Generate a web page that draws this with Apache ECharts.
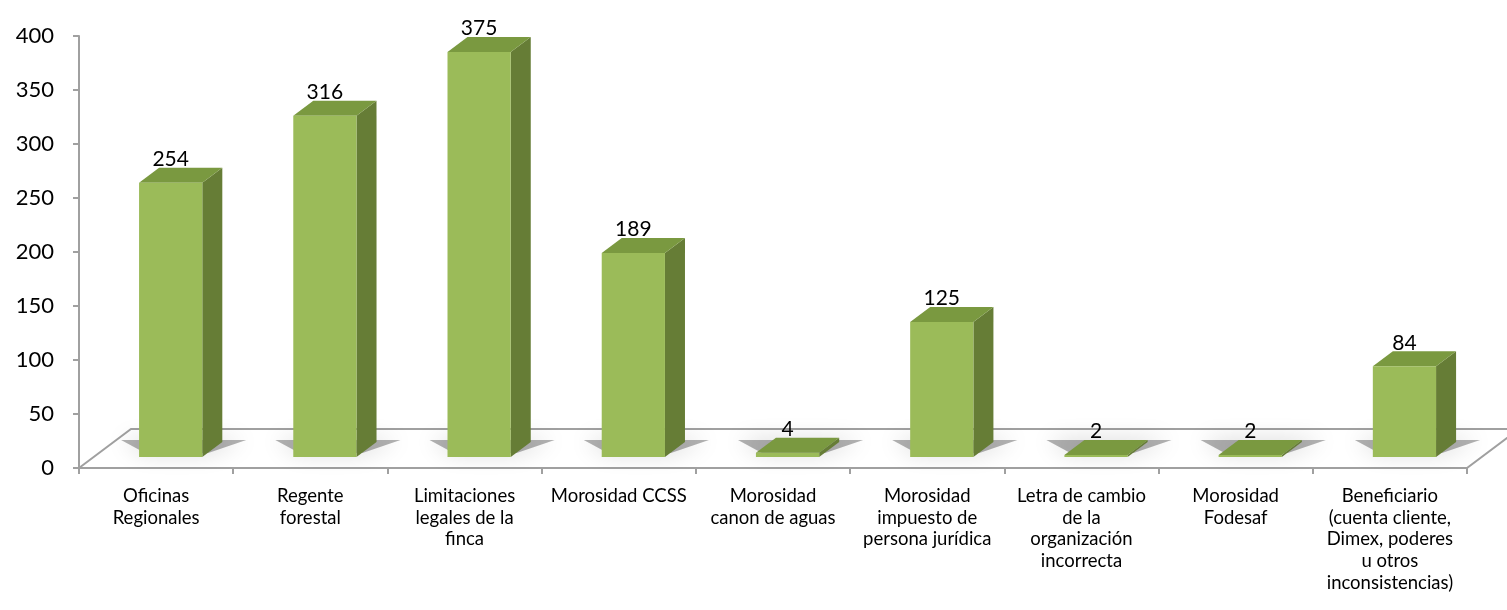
<!DOCTYPE html>
<html>
<head>
<meta charset="utf-8">
<script src="https://cdn.jsdelivr.net/npm/echarts@6/dist/echarts.min.js"></script>
<style>
  html, body { margin: 0; padding: 0; background: #fff; }
  #chart { width: 1507px; height: 610px; }
</style>
</head>
<body>
<div id="chart"></div>
<script>
// datos del gráfico
var categories = [
  "Oficinas\nRegionales",
  "Regente\nforestal",
  "Limitaciones\nlegales de la\nfinca",
  "Morosidad CCSS",
  "Morosidad\ncanon de aguas",
  "Morosidad\nimpuesto de\npersona jurídica",
  "Letra de cambio\nde la\norganización\nincorrecta",
  "Morosidad\nFodesaf",
  "Beneficiario\n(cuenta cliente,\nDimex, poderes\nu otros\ninconsistencias)"
];
var values = [254, 316, 375, 189, 4, 125, 2, 2, 84];
var yMin = 0;
var yMax = 400;
var yStep = 50;

var chart = echarts.init(document.getElementById("chart"));

// perspectiva del piso (px)
var depthX = 52;
var depthY = -39;
var barFront = 0.28;
var barBack = 0.665;
var lineColor = "#a0a0a0";

function renderFloor(params, api) {
  var cs = params.coordSys;
  var x0 = cs.x, x1 = cs.x + cs.width, y0 = cs.y + cs.height;
  var back = [
    [x0 + depthX, y0 + depthY],
    [x1 + depthX, y0 + depthY]
  ];
  return {
    type: "group",
    children: [
      {
        type: "polygon",
        shape: { points: [[x0, y0], [x1, y0], back[1], back[0]] },
        style: { fill: "#ffffff" }
      },
      {
        type: "polyline",
        shape: { points: [[x0, y0], back[0], back[1]] },
        style: { stroke: lineColor, lineWidth: 2, fill: null }
      },
      {
        type: "polyline",
        shape: { points: [[x0, y0], [x1, y0], back[1]] },
        style: { stroke: lineColor, lineWidth: 2, fill: null }
      }
    ]
  };
}

function renderBar(params, api) {
  var i = api.value(0);
  var v = api.value(1);
  var p0 = api.coord([i, 0]);
  var p1 = api.coord([i, v]);
  var w = api.size([1, 0])[0] * 0.41;
  var cx = p0[0] + depthX * barFront;
  var base = p0[1] + depthY * barFront;
  var top = p1[1] + depthY * barFront;
  var L = cx - w / 2, R = cx + w / 2;
  var dx = depthX * (barBack - barFront);
  var dy = depthY * (barBack - barFront);
  var backY = p0[1] + depthY * 0.95;
  return {
    type: "group",
    children: [
      // sombra en el piso
      {
        type: "polygon",
        shape: { points: [[L + 6, base - 4], [R + 6, base - 4], [R + dx + 24, backY + 9], [L - 18, backY + 9]] },
        style: {
          fill: "rgba(0,0,0,0.3)",
          shadowBlur: 22,
          shadowColor: "rgba(0,0,0,0.6)"
        }
      },
      {
        type: "polygon",
        shape: { points: [[R, base], [R + dx, base + dy], [R + dx, top + dy], [R, top]] },
        style: { fill: "#667d36" }
      },
      {
        type: "polygon",
        shape: { points: [[L, top], [R, top], [R + dx, top + dy], [L + dx, top + dy]] },
        style: { fill: "#7a9940" }
      },
      {
        type: "rect",
        shape: { x: L, y: top, width: w, height: base - top },
        style: { fill: "#9bbb59" }
      },
      {
        type: "text",
        x: cx,
        y: top + dy + 2,
        style: {
          text: String(v),
          align: "center",
          verticalAlign: "bottom",
          fontSize: 21,
          fontFamily: "Lato",
          fill: "#000"
        }
      }
    ]
  };
}

var option = {
  animation: false,
  grid: { left: 79, right: 40, top: 36, bottom: 142, containLabel: false },
  xAxis: {
    type: "category",
    data: categories,
    axisLine: { show: true, lineStyle: { color: lineColor, width: 2 } },
    axisTick: { show: true, length: 6, interval: 0, lineStyle: { color: lineColor, width: 2 } },
    axisLabel: {
      interval: 0,
      fontSize: 18.5,
      lineHeight: 21.7,
      margin: 17,
      color: "#000",
      fontFamily: "Lato"
    }
  },
  yAxis: {
    type: "value",
    min: yMin,
    max: yMax,
    interval: yStep,
    axisLine: { show: true, lineStyle: { color: lineColor, width: 2 } },
    axisTick: { show: true, length: 6, lineStyle: { color: lineColor, width: 2 } },
    splitLine: { show: false },
    axisLabel: { fontSize: 22, margin: 25, color: "#000", fontFamily: "Lato" }
  },
  series: [
    {
      name: "piso",
      type: "custom",
      z: 1,
      silent: true,
      renderItem: renderFloor,
      data: [[0, 0]]
    },
    {
      name: "Casos",
      type: "custom",
      z: 2,
      renderItem: renderBar,
      data: values.map(function (v, i) { return [i, v]; })
    }
  ]
};

chart.setOption(option);
</script>
</body>
</html>
